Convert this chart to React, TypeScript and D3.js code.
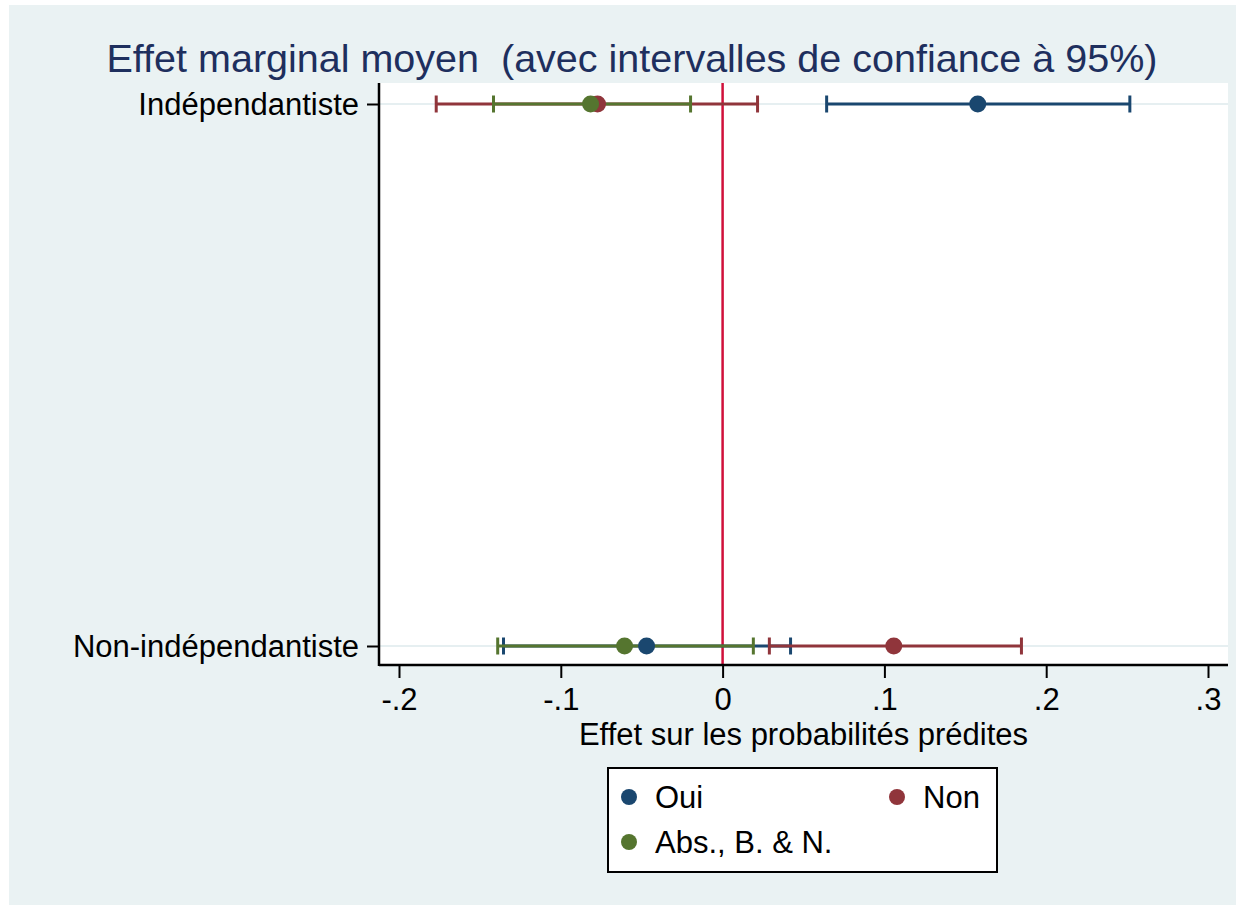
import React, { useEffect, useRef } from "react";
import * as d3 from "d3";

const rows = ["Indépendantiste", "Non-indépendantiste"];
const series = ["Oui", "Non", "Abs., B. & N."];
const colors = ["#1a476f", "#90353b", "#55752f"];

// [row][series] = estimate, lower, upper
const estimates = [
  [0.1577, -0.0773, -0.0816],
  [-0.047, 0.1058, -0.0606],
];
const lowers = [
  [0.0643, -0.177, -0.1416],
  [-0.1354, 0.0289, -0.139],
];
const uppers = [
  [0.2517, 0.0216, -0.0198],
  [0.042, 0.1847, 0.019],
];
const xTicks = [-0.2, -0.1, 0, 0.1, 0.2, 0.3];

const App: React.FC = () => {
  const svgRef = useRef<SVGSVGElement | null>(null);

  useEffect(() => {
    const width = 1236;
    const height = 905;
    const plot = { left: 379, right: 1228, top: 83, bottom: 665 };
    const font = "Liberation Sans, Arial, Helvetica, sans-serif";
    const fs = "31px";

    const svg = d3.select(svgRef.current);
    svg.selectAll("*").remove();
    svg.attr("width", width).attr("height", height);

    svg
      .append("rect")
      .attr("x", 9)
      .attr("y", 5)
      .attr("width", width - 9)
      .attr("height", height - 5)
      .attr("fill", "#eaf2f3");

    svg
      .append("rect")
      .attr("x", plot.left)
      .attr("y", plot.top)
      .attr("width", plot.right - plot.left)
      .attr("height", plot.bottom - plot.top)
      .attr("fill", "white");

    const x = d3.scaleLinear().domain([-0.2, 0.3]).range([399, 1208]);
    const y = d3
      .scalePoint<string>()
      .domain(rows)
      .range([104, 646]);

    // title
    svg
      .append("text")
      .attr("x", 632)
      .attr("y", 72)
      .attr("text-anchor", "middle")
      .attr("fill", "#1e2f5e")
      .style("font-family", font)
      .style("font-size", "39.5px")
      .style("white-space", "pre")
      .text("Effet marginal moyen  (avec intervalles de confiance à 95%)");

    // grid lines at rows
    svg
      .append("g")
      .selectAll("line")
      .data(rows)
      .join("line")
      .attr("x1", plot.left)
      .attr("x2", plot.right)
      .attr("y1", (d) => y(d)!)
      .attr("y2", (d) => y(d)!)
      .attr("stroke", "#e6eff1")
      .attr("stroke-width", 2);

    // reference line at 0
    svg
      .append("line")
      .attr("x1", x(0))
      .attr("x2", x(0))
      .attr("y1", plot.top)
      .attr("y2", plot.bottom)
      .attr("stroke", "#d0103a")
      .attr("stroke-width", 2.5);

    // axes
    const xAxis = svg
      .append("g")
      .attr("transform", `translate(0,${plot.bottom})`)
      .call(
        d3
          .axisBottom(x)
          .tickValues(xTicks)
          .tickSize(13)
          .tickPadding(10)
          .tickFormat((d) => {
            const v = +d;
            if (v === 0) return "0";
            return (v < 0 ? "-" : "") + d3.format(".1f")(Math.abs(v)).replace("0.", ".");
          })
      );
    xAxis.select(".domain").remove();
    xAxis.selectAll(".tick line").attr("stroke", "#000").attr("stroke-width", 2);
    xAxis
      .selectAll("text")
      .attr("fill", "#000")
      .style("font-family", font)
      .style("font-size", fs);

    const yAxis = svg
      .append("g")
      .attr("transform", `translate(${plot.left},0)`)
      .call(d3.axisLeft(y).tickSize(12).tickPadding(8));
    yAxis.select(".domain").remove();
    yAxis.selectAll(".tick line").attr("stroke", "#000").attr("stroke-width", 2);
    yAxis
      .selectAll("text")
      .attr("fill", "#000")
      .attr("dy", "0.35em")
      .style("font-family", font)
      .style("font-size", fs);

    svg
      .append("line")
      .attr("x1", plot.left)
      .attr("x2", plot.right)
      .attr("y1", plot.bottom)
      .attr("y2", plot.bottom)
      .attr("stroke", "#000")
      .attr("stroke-width", 2.5);
    svg
      .append("line")
      .attr("x1", plot.left)
      .attr("x2", plot.left)
      .attr("y1", plot.top)
      .attr("y2", plot.bottom + 1)
      .attr("stroke", "#000")
      .attr("stroke-width", 2.5);

    svg
      .append("text")
      .attr("x", (plot.left + plot.right) / 2)
      .attr("y", 745)
      .attr("text-anchor", "middle")
      .attr("fill", "#000")
      .style("font-family", font)
      .style("font-size", fs)
      .text("Effet sur les probabilités prédites");

    // confidence intervals
    const cap = 8.5;
    const ci = svg.append("g");
    series.forEach((s, si) => {
      rows.forEach((r, ri) => {
        const yy = y(r)!;
        const g = ci.append("g").attr("stroke", colors[si]).attr("stroke-width", 3);
        g.append("line")
          .attr("x1", x(lowers[ri][si]))
          .attr("x2", x(uppers[ri][si]))
          .attr("y1", yy)
          .attr("y2", yy);
        [lowers[ri][si], uppers[ri][si]].forEach((v) => {
          g.append("line")
            .attr("x1", x(v))
            .attr("x2", x(v))
            .attr("y1", yy - cap)
            .attr("y2", yy + cap);
        });
      });
    });

    // point estimates
    series.forEach((s, si) => {
      svg
        .append("g")
        .selectAll("circle")
        .data(rows)
        .join("circle")
        .attr("cx", (_, ri) => x(estimates[ri][si]))
        .attr("cy", (r) => y(r)!)
        .attr("r", 8.5)
        .attr("fill", colors[si]);
    });

    // legend
    const legend = svg.append("g");
    legend
      .append("rect")
      .attr("x", 608)
      .attr("y", 768)
      .attr("width", 389)
      .attr("height", 104)
      .attr("fill", "white")
      .attr("stroke", "#000")
      .attr("stroke-width", 2);
    const legendPos = [
      { cx: 629, cy: 797, tx: 655 },
      { cx: 897, cy: 797, tx: 923 },
      { cx: 629, cy: 842, tx: 655 },
    ];
    series.forEach((s, si) => {
      const p = legendPos[si];
      legend
        .append("circle")
        .attr("cx", p.cx)
        .attr("cy", p.cy)
        .attr("r", 8)
        .attr("fill", colors[si]);
      legend
        .append("text")
        .attr("x", p.tx)
        .attr("y", p.cy + 11)
        .attr("fill", "#000")
        .style("font-family", font)
        .style("font-size", fs)
        .text(s);
    });
  }, []);

  return (
    <div style={{ position: "absolute", left: 0, top: 0 }}>
      <svg ref={svgRef} style={{ display: "block" }} />
    </div>
  );
};

export default App;
